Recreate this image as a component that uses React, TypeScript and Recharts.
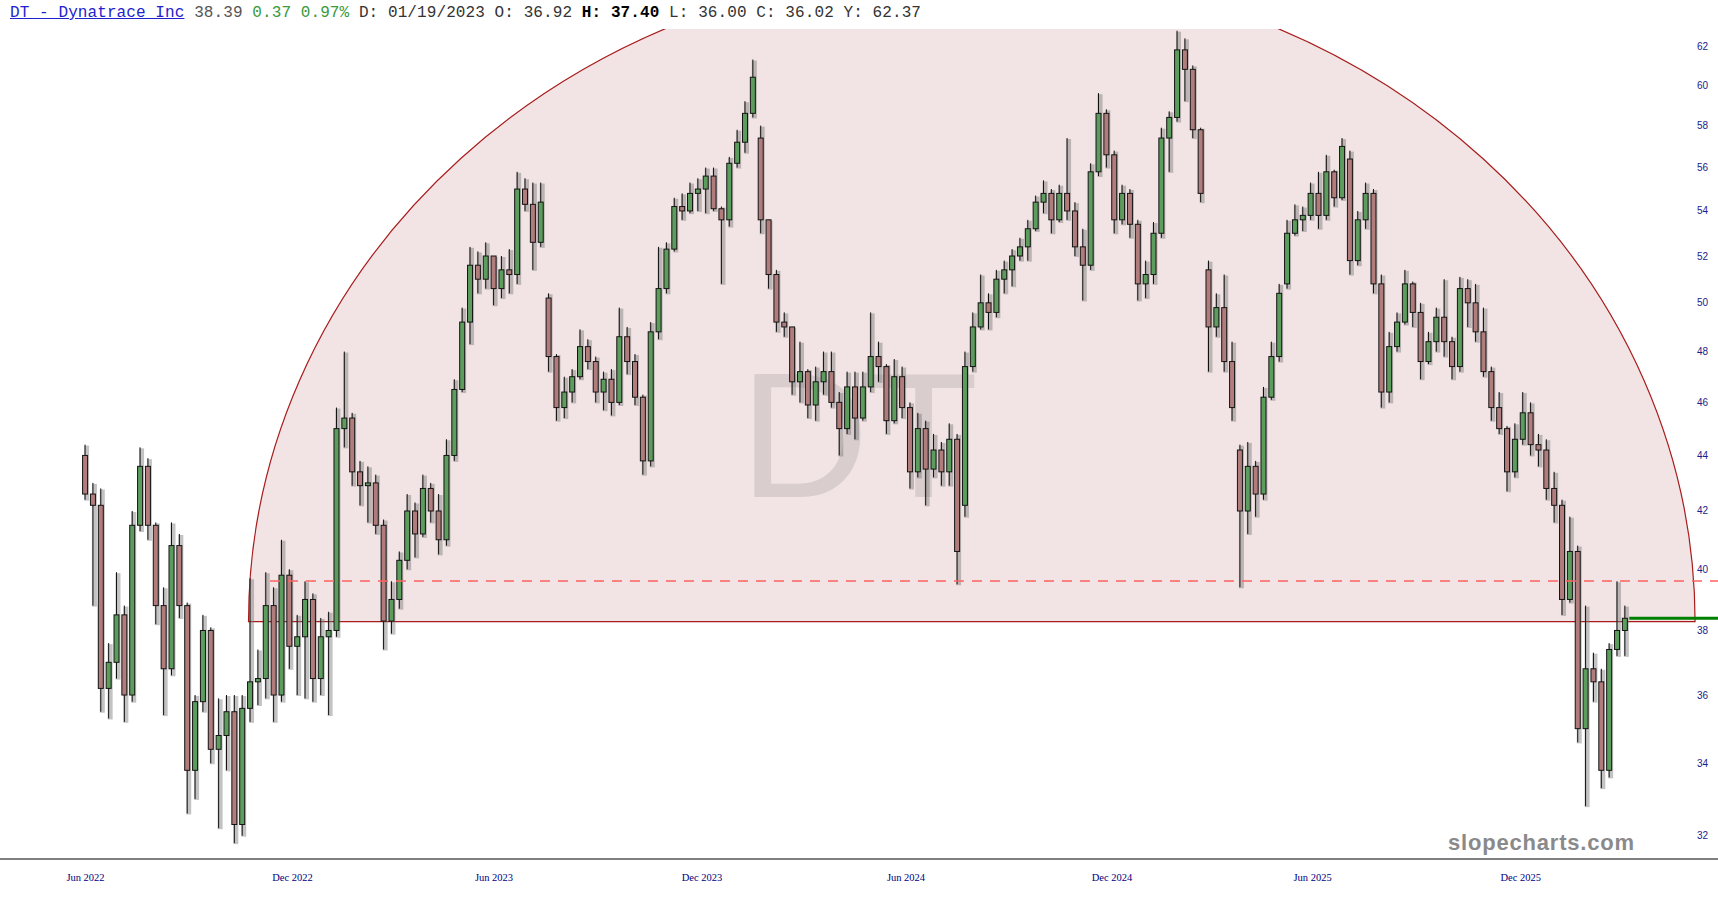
import React from 'react';
import { ComposedChart, Bar, XAxis, YAxis, ReferenceArea, ReferenceLine } from 'recharts';

// weekly candles, week 0 = week of 30 May 2022
const opens = [
  44.0, 42.6, 42.2, 36.2, 37.0, 38.5, 36.0, 41.5, 43.6, 41.5,
  38.8, 36.8, 40.8, 38.8, 33.8, 35.8, 38.0, 34.4, 34.8, 35.5,
  32.3, 35.6, 36.4, 36.5, 38.8, 36.0, 39.8, 37.5, 37.8, 39.0,
  36.5, 37.8, 38.0, 45.0, 45.4, 43.4, 42.9, 43.0, 41.5, 38.3,
  39.0, 40.3, 42.0, 41.2, 42.8, 42.0, 41.0, 44.0, 46.5, 49.2,
  51.6, 51.0, 52.0, 50.6, 51.4, 51.2, 55.0, 54.3, 52.6, 50.2,
  47.8, 45.8, 46.4, 47.0, 48.2, 47.6, 46.4, 46.9, 46.0, 48.6,
  47.6, 46.2, 43.8, 48.8, 50.6, 52.3, 54.2, 54.0, 54.8, 55.0,
  55.6, 54.1, 53.6, 56.2, 57.2, 58.6, 57.4, 53.6, 51.2, 49.2,
  49.0, 46.8, 47.2, 45.9, 46.8, 47.2, 46.0, 45.0, 46.6, 45.4,
  46.6, 47.8, 47.4, 45.3, 47.0, 45.8, 43.4, 45.0, 43.5, 44.2,
  43.4, 44.6, 42.2, 47.4, 49.0, 50.0, 49.6, 51.0, 51.4, 52.0,
  52.4, 53.2, 54.4, 54.8, 53.6, 54.8, 54.0, 52.4, 51.6, 55.8,
  58.6, 56.6, 53.6, 54.8, 53.4, 50.8, 51.2, 53.0, 57.4, 58.4,
  61.8, 60.8, 57.8, 51.4, 49.0, 49.8, 47.6, 44.2, 42.0, 43.6,
  42.6, 46.2, 47.8, 50.8, 53.0, 53.6, 53.8, 54.8, 53.8, 55.8,
  54.6, 56.4, 51.8, 53.6, 54.8, 50.8, 46.4, 48.2, 49.2, 50.8,
  49.6, 47.6, 48.4, 49.4, 48.4, 47.4, 50.6, 50.0, 48.8, 47.2,
  45.8, 45.0, 43.4, 44.6, 45.6, 44.4, 44.2, 42.8, 42.2, 39.0,
  40.6, 35.0, 36.8, 36.4, 33.8, 37.4, 38.0,
];

const highs = [
  44.4, 43.0, 42.8, 37.6, 39.9, 38.8, 42.0, 44.3, 43.9, 41.6,
  39.4, 41.6, 41.2, 38.9, 36.0, 38.5, 38.1, 35.9, 36.0, 36.0,
  36.0, 39.7, 37.4, 39.9, 39.4, 41.0, 40.0, 38.5, 39.6, 39.2,
  38.4, 38.6, 45.8, 48.0, 45.6, 43.8, 43.6, 43.3, 41.7, 39.6,
  40.6, 42.6, 42.3, 43.3, 43.0, 42.6, 44.6, 46.9, 49.8, 52.4,
  52.2, 52.6, 52.0, 52.0, 52.3, 55.8, 55.5, 55.3, 55.3, 50.4,
  47.9, 47.0, 47.3, 48.9, 48.5, 47.8, 47.2, 47.3, 49.8, 49.0,
  47.9, 46.3, 49.2, 52.4, 52.6, 54.6, 54.8, 55.3, 55.5, 56.0,
  56.0, 54.2, 56.5, 57.8, 59.2, 61.3, 58.0, 53.6, 51.4, 49.6,
  49.0, 48.4, 47.3, 47.4, 48.0, 48.0, 46.4, 47.2, 47.2, 47.2,
  49.6, 48.4, 47.5, 47.7, 47.4, 46.0, 45.6, 45.3, 44.8, 44.5,
  45.2, 44.8, 48.0, 49.6, 51.2, 50.4, 51.4, 51.8, 52.3, 52.8,
  53.6, 54.7, 55.4, 55.0, 55.2, 57.4, 54.4, 53.2, 56.2, 59.6,
  58.8, 56.8, 55.2, 55.0, 53.6, 51.8, 53.5, 57.9, 58.7, 62.8,
  62.4, 61.0, 57.9, 51.8, 50.4, 51.2, 48.4, 44.4, 44.5, 43.8,
  46.6, 48.4, 50.8, 53.6, 54.3, 54.2, 55.3, 55.8, 56.6, 55.9,
  57.4, 56.8, 54.0, 55.3, 55.0, 51.2, 48.8, 49.6, 51.4, 50.9,
  50.0, 48.8, 49.8, 51.0, 48.6, 51.1, 51.0, 50.8, 49.8, 47.4,
  46.4, 45.1, 45.2, 46.4, 46.0, 44.8, 44.6, 43.4, 42.4, 41.8,
  40.8, 38.8, 37.3, 36.8, 37.6, 39.6, 38.8,
];

const lows = [
  42.4, 38.8, 35.5, 35.3, 36.5, 35.2, 35.8, 41.3, 41.0, 38.2,
  35.4, 36.6, 38.4, 32.6, 33.0, 35.5, 34.0, 32.2, 33.8, 31.8,
  32.0, 35.2, 35.7, 35.9, 35.2, 35.8, 36.8, 36.0, 35.9, 35.8,
  36.0, 35.4, 37.8, 44.3, 42.9, 42.2, 41.6, 41.2, 37.4, 37.9,
  38.7, 40.0, 40.4, 41.1, 41.6, 40.5, 40.8, 43.8, 46.4, 48.3,
  50.4, 50.6, 49.9, 50.2, 50.4, 50.8, 54.0, 51.4, 52.4, 47.2,
  45.3, 45.4, 46.0, 46.9, 47.3, 46.0, 45.7, 45.5, 45.9, 47.1,
  45.9, 43.3, 43.6, 48.5, 50.4, 52.2, 53.6, 53.9, 54.0, 53.9,
  54.0, 50.8, 53.3, 56.0, 56.7, 58.4, 53.0, 50.6, 48.8, 48.6,
  46.3, 46.0, 45.4, 45.3, 46.3, 45.8, 44.0, 44.8, 44.6, 45.3,
  46.4, 46.8, 44.8, 45.2, 45.4, 42.8, 43.2, 42.2, 43.2, 42.9,
  42.9, 39.5, 41.8, 47.2, 48.9, 48.9, 49.4, 50.4, 50.7, 51.8,
  51.8, 53.1, 53.9, 53.0, 53.5, 53.6, 52.0, 50.1, 51.4, 55.6,
  56.0, 53.0, 53.4, 52.8, 50.1, 50.2, 50.8, 52.8, 55.8, 58.2,
  59.2, 57.4, 54.4, 47.2, 48.6, 47.2, 45.3, 39.4, 41.2, 41.8,
  42.4, 46.1, 47.6, 50.6, 52.9, 53.1, 53.6, 53.2, 53.6, 54.2,
  54.5, 51.2, 51.6, 53.2, 50.4, 45.8, 46.0, 48.0, 49.1, 49.0,
  46.9, 47.5, 48.0, 47.8, 46.9, 47.2, 49.0, 48.4, 47.0, 45.3,
  44.8, 42.7, 43.2, 44.4, 44.0, 43.6, 42.4, 41.6, 38.5, 38.9,
  34.6, 32.8, 35.8, 33.3, 33.6, 37.2, 37.2,
];

const closes = [
  42.6, 42.2, 36.2, 37.0, 38.5, 36.0, 41.5, 43.6, 41.5, 38.8,
  36.8, 40.8, 38.8, 33.8, 35.8, 38.0, 34.4, 34.8, 35.5, 32.3,
  35.6, 36.4, 36.5, 38.8, 36.0, 39.8, 37.5, 37.8, 39.0, 36.5,
  37.8, 38.0, 45.0, 45.4, 43.4, 42.9, 43.0, 41.5, 38.3, 39.0,
  40.3, 42.0, 41.2, 42.8, 42.0, 41.0, 44.0, 46.5, 49.2, 51.6,
  51.0, 52.0, 50.6, 51.4, 51.2, 55.0, 54.3, 52.6, 54.4, 47.8,
  45.8, 46.4, 47.0, 48.2, 47.6, 46.4, 46.9, 46.0, 48.6, 47.6,
  46.2, 43.8, 48.8, 50.6, 52.3, 54.2, 54.0, 54.8, 55.0, 55.6,
  54.1, 53.6, 56.2, 57.2, 58.6, 60.4, 53.6, 51.2, 49.2, 49.0,
  46.8, 47.2, 45.9, 46.8, 47.2, 46.0, 45.0, 46.6, 45.4, 46.6,
  47.8, 47.4, 45.3, 47.0, 45.8, 43.4, 45.0, 43.5, 44.2, 43.4,
  44.6, 40.6, 47.4, 49.0, 50.0, 49.6, 51.0, 51.4, 52.0, 52.4,
  53.2, 54.4, 54.8, 53.6, 54.8, 54.0, 52.4, 51.6, 55.8, 58.6,
  56.6, 53.6, 54.8, 53.4, 50.8, 51.2, 53.0, 57.4, 58.4, 61.8,
  60.8, 57.8, 54.8, 49.0, 49.8, 47.6, 45.8, 42.0, 43.6, 42.6,
  46.2, 47.8, 50.4, 53.0, 53.6, 53.8, 54.8, 53.8, 55.8, 54.6,
  57.0, 51.8, 53.6, 54.8, 50.8, 46.4, 48.2, 49.2, 50.8, 49.6,
  47.6, 48.4, 49.4, 48.4, 47.4, 50.6, 50.0, 48.8, 47.2, 45.8,
  45.0, 43.4, 44.6, 45.6, 44.4, 44.2, 42.8, 42.2, 39.0, 40.6,
  35.0, 36.8, 36.4, 33.8, 37.4, 38.0, 38.39,
];

// x axis is in weeks; labels sit on the first trading day of the month
const monthTicks = [0.29, 26.64, 52.29, 78.77, 104.73, 130.95, 156.49, 182.99];
const monthLabels = ['Jun 2022', 'Dec 2022', 'Jun 2023', 'Dec 2023', 'Jun 2024', 'Dec 2024', 'Jun 2025', 'Dec 2025'];
const priceTicks = [32, 34, 36, 38, 40, 42, 44, 46, 48, 50, 52, 54, 56, 58, 60, 62];

// half-ellipse drawing: from week, to week, base price, price at the crown
const dome = [21.04, 205.17, 38.28, 66.26];
// dashed resistance: starting week, price
const resistance = [23.77, 39.61];
const lastPrice = 38.39;

const xDomain = [-10.594, 208.09];
const yDomain = [31.38, 62.89];

const candles = opens.map((o, i) => ({
  w: i + 0.29,
  o,
  h: highs[i],
  l: lows[i],
  c: closes[i],
  range: [lows[i], highs[i]],
}));

function Candle(props: any) {
  const { x, width, payload } = props;
  let { y, height } = props;
  if (height < 0) {
    y = y + height;
    height = -height;
  }
  const { o, h, l, c } = payload;
  const span = Math.log(h) - Math.log(l) || 1;
  const py = (v: number) => y + (height * (Math.log(h) - Math.log(v))) / span;
  const up = c >= o;
  const top = py(Math.max(o, c));
  const bot = py(Math.min(o, c));
  const cx = x + width / 2;
  return (
    <g>
      <rect x={x + 1.5} y={y + 1} width={width} height={height} fill="#7a7a7a" opacity={0.45} />
      <line x1={cx} x2={cx} y1={y} y2={y + height} stroke="#111" strokeWidth={1} />
      <rect
        x={x}
        y={top}
        width={width}
        height={Math.max(1, bot - top)}
        fill={up ? '#5c9c5c' : '#b07c7c'}
        stroke="#141414"
        strokeWidth={1}
      />
    </g>
  );
}

function Dome(props: any) {
  const { x, y, width, height, clipPath } = props;
  const base = y + height;
  const d = `M ${x} ${base} A ${width / 2} ${height} 0 0 1 ${x + width} ${base} Z`;
  return (
    <g clipPath={clipPath}>
      <path d={d} fill="#f2e4e4" stroke="#a81c1c" strokeWidth={1.2} />
      <text
        x={859}
        y={497}
        textAnchor="middle"
        fontFamily="Liberation Sans, Arial, sans-serif"
        fontSize={179}
        fill="#d9cdcd"
      >
        DT
      </text>
    </g>
  );
}

function MonthTick(props: any) {
  const { x, payload } = props;
  const i = monthTicks.indexOf(payload.value);
  return (
    <text x={x} y={881} textAnchor="middle" fontFamily="Liberation Serif, serif" fontSize={10.5} fill="#000080">
      {monthLabels[i]}
    </text>
  );
}

function PriceTick(props: any) {
  const { y, payload } = props;
  return (
    <text x={1702.5} y={y + 3.5} textAnchor="middle" fontFamily="Liberation Sans, Arial, sans-serif" fontSize={10} fill="#1c1c8c">
      {payload.value}
    </text>
  );
}

export default function App() {
  return (
    <div style={{ position: 'absolute', left: 0, top: 0, width: 1718, height: 900, background: '#fff', overflow: 'hidden' }}>
      <ComposedChart width={1718} height={900} data={candles} margin={{ top: 29, right: -40, bottom: 0, left: 0 }}>
        <XAxis
          type="number"
          dataKey="w"
          domain={xDomain}
          allowDataOverflow
          ticks={monthTicks}
          interval={0}
          tick={<MonthTick />}
          tickLine={false}
          axisLine={{ stroke: '#808080', strokeWidth: 2 }}
          height={41}
        />
        <YAxis
          scale="log"
          domain={yDomain}
          allowDataOverflow
          ticks={priceTicks}
          interval={0}
          orientation="right"
          width={40}
          tick={<PriceTick />}
          tickLine={false}
          axisLine={false}
        />
        <ReferenceArea
          x1={dome[0]}
          x2={dome[1]}
          y1={dome[2]}
          y2={dome[3]}
          ifOverflow="hidden"
          shape={<Dome />}
        />
        <Bar dataKey="range" shape={<Candle />} barSize={5} isAnimationActive={false} />
        <ReferenceLine
          segment={[{ x: resistance[0], y: resistance[1] }, { x: xDomain[1], y: resistance[1] }]}
          stroke="#ff6262"
          strokeWidth={1.5}
          strokeDasharray="10 8"
          ifOverflow="hidden"
        />
        <ReferenceLine
          segment={[{ x: candles[candles.length - 1].w + 0.5, y: lastPrice }, { x: xDomain[1], y: lastPrice }]}
          stroke="#008000"
          strokeWidth={3}
          ifOverflow="hidden"
        />
      </ComposedChart>
      <div
        style={{
          position: 'absolute',
          left: 10,
          top: 5,
          fontFamily: 'Liberation Mono, monospace',
          fontSize: 16,
          lineHeight: '16px',
          letterSpacing: 0.09,
          whiteSpace: 'pre',
          color: '#333',
        }}
      >
        <span style={{ color: '#2222cc', textDecoration: 'underline' }}>DT - Dynatrace Inc</span>
        <span style={{ color: '#555' }}> 38.39</span>
        <span style={{ color: '#3a9a3a' }}> 0.37 0.97%</span>
        <span> D: 01/19/2023 O: 36.92 </span>
        <span style={{ fontWeight: 'bold', color: '#000' }}>H: 37.40</span>
        <span> L: 36.00 C: 36.02 Y: 62.37</span>
      </div>
      <div
        style={{
          position: 'absolute',
          left: 1448,
          top: 832,
          fontFamily: 'Liberation Sans, Arial, sans-serif',
          fontWeight: 'bold',
          fontSize: 22,
          lineHeight: '22px',
          letterSpacing: 0.8,
          color: '#8a8a8a',
        }}
      >
        slopecharts.com
      </div>
    </div>
  );
}
